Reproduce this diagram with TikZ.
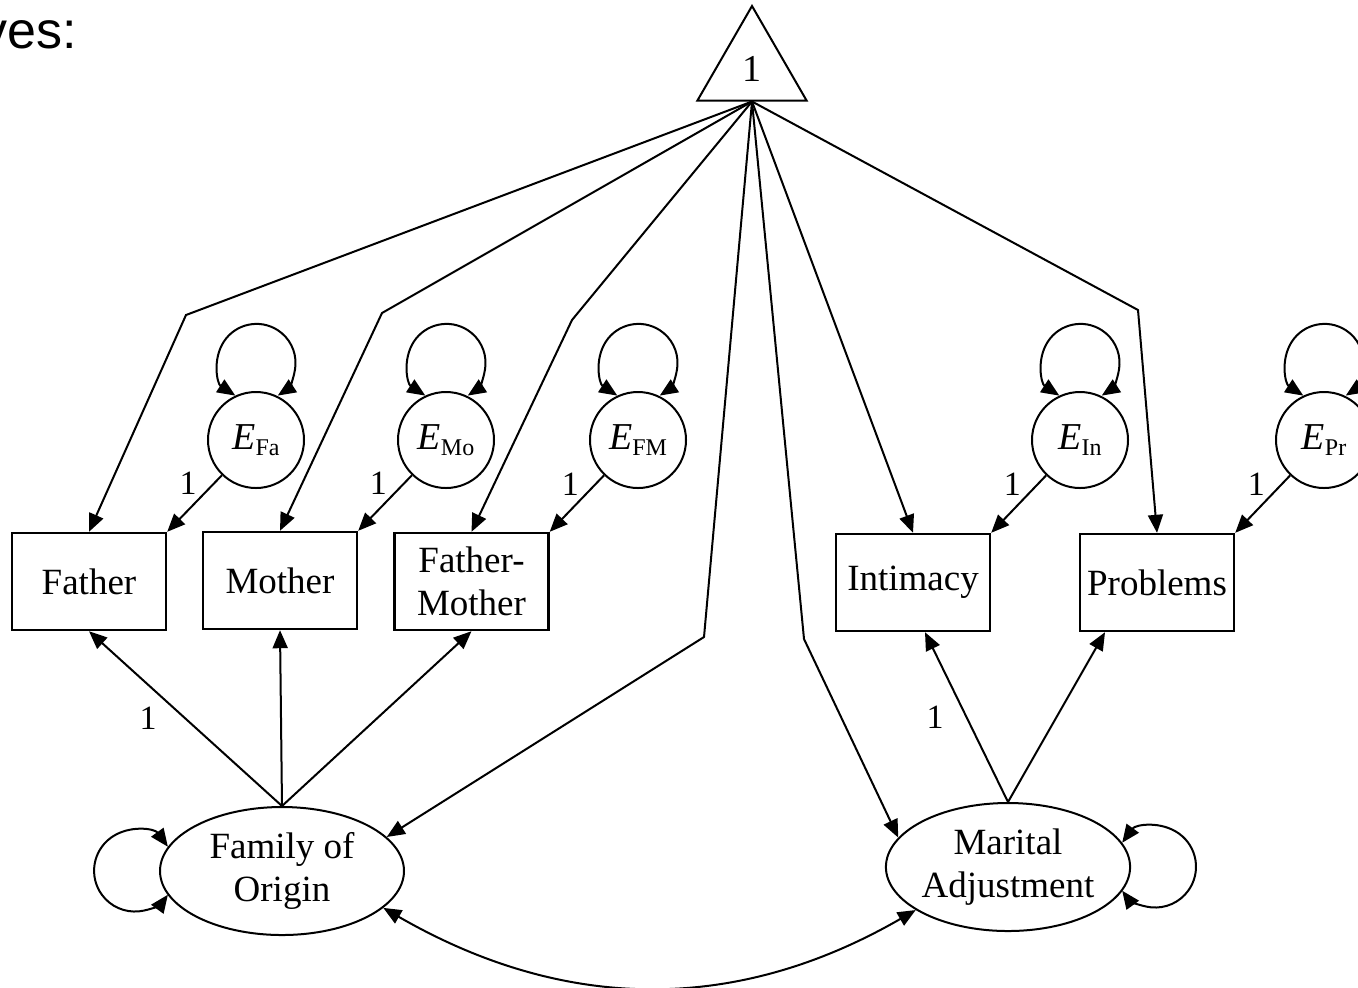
\documentclass[tikz,border=0pt]{standalone}
\usepackage{fontspec}
\setmainfont{Liberation Serif}
\newfontfamily\slidefont{Liberation Sans}
\usetikzlibrary{arrows.meta,shapes.geometric,calc}
\newcommand{\errvar}[1]{\textit{E}\raisebox{-0.35ex}{\fontsize{12pt}{14pt}\selectfont #1}}

\begin{document}
\begin{tikzpicture}[x=0.5pt,y=0.5pt,line width=1pt,
		>={Triangle[length=9pt,width=7.5pt]},
		obs/.style={draw,line width=1.2pt,minimum width=77pt,minimum height=48.5pt,inner sep=0pt,align=center,font=\fontsize{18.5pt}{21.5pt}\selectfont},
		lat/.style={draw,ellipse,minimum width=122pt,minimum height=64pt,inner sep=0pt,align=center,font=\fontsize{18.5pt}{21.5pt}\selectfont},
		err/.style={draw,circle,minimum size=48pt,inner sep=0pt,font=\fontsize{19pt}{21pt}\selectfont},
		const/.style={draw,regular polygon,regular polygon sides=3,minimum size=63pt,inner sep=0pt,font=\fontsize{19pt}{22pt}\selectfont},
		lbl/.style={inner sep=0pt,font=\fontsize{17pt}{20pt}\selectfont},
		var/.style={<->}]
		\useasboundingbox (0,0) rectangle (1358,-987);
		\clip (0,0) rectangle (1358,-987);
		\node[anchor=base east,inner sep=0pt,font=\slidefont\fontsize{26pt}{30pt}\selectfont] (hdr) at (78,-48) {ves:};
		%
		\node[const] (tri) at (752,-69) {1};
		\node[obs] (fath) at (89,-581.5) {Father};
		\node[obs] (moth) at (280,-580.5) {Mother};
		\node[obs] (fmot) at (471.5,-581.5) {Father-\\Mother};
		\node[obs] (intim) at (913,-582.5) {Intimacy};
		\node[obs] (probl) at (1157,-582.5) {Problems};
		\node[err] (efa) at (256,-440) {\errvar{Fa}};
		\node[err] (emo) at (446,-440) {\errvar{Mo}};
		\node[err] (efm) at (638,-440) {\errvar{FM}};
		\node[err] (ein) at (1080,-440) {\errvar{In}};
		\node[err] (epr) at (1324,-440) {\errvar{Pr}};
		\node[lat] (fam) at (282,-871) {Family of\\Origin};
		\node[lat] (mar) at (1008,-867) {Marital\\Adjustment};
		%
		\draw[->] (tri.south) -- (186,-315) -- (fath.north);
		\draw[->] (tri.south) -- (382,-313) -- (moth.north);
		\draw[->] (tri.south) -- (572,-320) -- (fmot.north);
		\draw[->] (tri.south) -- (704,-637) -- (fam.18);
		\draw[->] (tri.south) -- (804,-639) -- (mar.165);
		\draw[->] (tri.south) -- (intim.north);
		\draw[->] (tri.south) -- (1138,-310) -- (probl.north);
		%
		\draw[->] (fam.north) -- node[lbl,left=14pt] {1} (fath.south);
		\draw[->] (fam.north) -- (moth.south);
		\draw[->] (fam.north) -- (fmot.south);
		\draw[->] (mar.north) -- node[lbl,left=11pt] {1} ([xshift=6pt]intim.south);
		\draw[->] (mar.north) -- ([xshift=-26pt]probl.south);
		%
		\draw[->] (efa) -- node[lbl,pos=0.15,left=8pt] {1} (fath.north east);
		\draw[->] (emo) -- node[lbl,pos=0.15,left=8pt] {1} (moth.north east);
		\draw[->] (efm) -- node[lbl,pos=0.15,left=8pt] {1} (fmot.north east);
		\draw[->] (ein) -- node[lbl,pos=0.15,left=8pt] {1} (intim.north east);
		\draw[->] (epr) -- node[lbl,pos=0.15,left=8pt] {1} (probl.north east);
		%
		\draw[var] (efa.115) arc[start angle=237,end angle=-57,radius=19.5pt];
		\draw[var] (emo.115) arc[start angle=237,end angle=-57,radius=19.5pt];
		\draw[var] (efm.115) arc[start angle=237,end angle=-57,radius=19.5pt];
		\draw[var] (ein.115) arc[start angle=237,end angle=-57,radius=19.5pt];
		\draw[var] (epr.115) arc[start angle=237,end angle=-57,radius=19.5pt];
		\draw[var] (fam.168) arc[start angle=36,end angle=324,radius=20.4pt];
		\draw[var] (mar.12) arc[start angle=144,end angle=-144,radius=20.4pt];
		\draw[var] (fam.-20) to[out=-30,in=-150] (mar.205);
	\end{tikzpicture}
\end{document}
